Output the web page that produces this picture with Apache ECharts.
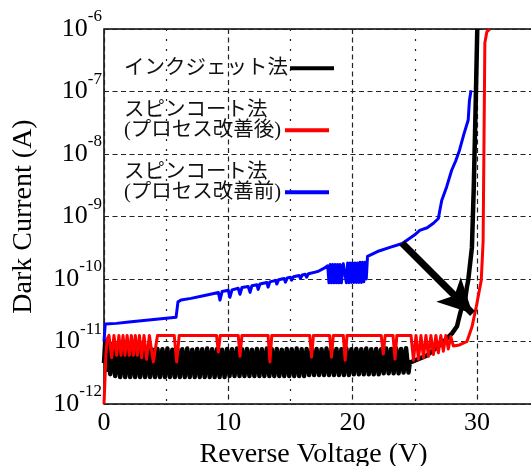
<!DOCTYPE html>
<html><head><meta charset="utf-8">
<script src="https://cdn.jsdelivr.net/npm/echarts@6/dist/echarts.min.js"></script>
<style>html,body{margin:0;padding:0;background:#fff}#c{width:531px;height:466px}</style>
</head><body><div id="c"></div>
<script>
// ---- data (Reverse voltage [V], dark current [A]) ----
const seriesNames = ['インクジェット法', 'スピンコート法\n(プロセス改善後)', 'スピンコート法\n(プロセス改善前)'];
const xTickValues = [0, 10, 20, 30];
const yTickExponents = [-12, -11, -10, -9, -8, -7, -6];

const blackCurrent = [
  [0.0,4.5e-12],[0.1,1.0e-11],[0.2,3.5e-12],
  [0.3,1.0e-11],[0.5,3.0e-12],[0.7,9.2e-12],[0.9,2.8e-12],[1.1,8.6e-12],[1.3,2.7e-12],[1.5,8.2e-12],[1.7,2.7e-12],[1.9,7.9e-12],[2.1,2.7e-12],
  [2.3,7.7e-12],[2.5,2.7e-12],[2.7,7.8e-12],[2.9,2.7e-12],[3.1,7.5e-12],[3.3,2.7e-12],[3.5,7.7e-12],[3.7,2.7e-12],[3.9,7.4e-12],[4.1,2.7e-12],
  [4.3,7.6e-12],[4.5,2.7e-12],[4.7,7.5e-12],[4.9,2.7e-12],[5.1,7.7e-12],[5.3,2.7e-12],[5.5,7.4e-12],[5.7,2.7e-12],[5.9,7.6e-12],[6.1,2.7e-12],
  [6.3,7.5e-12],[6.5,2.7e-12],[6.7,7.7e-12],[6.9,2.7e-12],[7.1,7.4e-12],[7.3,2.7e-12],[7.5,7.6e-12],[7.7,2.7e-12],[7.9,7.5e-12],[8.1,2.7e-12],
  [8.3,7.7e-12],[8.5,2.7e-12],[8.7,7.5e-12],[8.9,2.7e-12],[9.1,7.6e-12],[9.3,2.7e-12],[9.5,7.4e-12],[9.7,2.7e-12],[9.9,7.6e-12],[10.1,2.8e-12],
  [10.3,7.5e-12],[10.5,2.8e-12],[10.7,7.7e-12],[10.9,2.8e-12],[11.1,7.5e-12],[11.3,2.8e-12],[11.5,7.6e-12],[11.7,2.8e-12],[11.9,7.4e-12],[12.1,2.8e-12],
  [12.3,7.6e-12],[12.5,2.8e-12],[12.7,7.5e-12],[12.9,2.8e-12],[13.1,7.7e-12],[13.3,2.8e-12],[13.5,7.5e-12],[13.7,2.8e-12],[13.9,7.6e-12],[14.1,2.8e-12],
  [14.3,7.4e-12],[14.5,2.8e-12],[14.7,7.6e-12],[14.9,2.8e-12],[15.1,7.5e-12],[15.3,2.8e-12],[15.5,7.7e-12],[15.7,2.8e-12],[15.9,7.5e-12],[16.1,2.8e-12],
  [16.3,7.6e-12],[16.5,2.9e-12],[16.7,7.4e-12],[16.9,2.9e-12],[17.1,7.6e-12],[17.3,2.9e-12],[17.5,7.5e-12],[17.7,2.9e-12],[17.9,7.7e-12],[18.1,2.9e-12],
  [18.3,7.5e-12],[18.5,2.9e-12],[18.7,7.6e-12],[18.9,2.9e-12],[19.1,7.5e-12],[19.3,2.9e-12],[19.5,7.7e-12],[19.7,2.9e-12],[19.9,7.5e-12],[20.1,3.0e-12],
  [20.3,7.6e-12],[20.5,3.0e-12],[20.7,7.5e-12],[20.9,3.0e-12],[21.1,7.7e-12],[21.3,3.0e-12],[21.5,7.5e-12],[21.7,3.0e-12],[21.9,7.6e-12],[22.1,3.0e-12],
  [22.3,7.5e-12],[22.5,3.1e-12],[22.7,7.7e-12],[22.9,3.1e-12],[23.1,7.6e-12],[23.3,3.1e-12],[23.5,7.7e-12],[23.7,3.1e-12],[23.9,7.6e-12],[24.1,3.2e-12],
  [24.3,7.8e-12],[24.5,3.2e-12],
  [24.6,4.6e-12],[26.0,6.0e-12],[27.0,8.7e-12],[28.0,1.35e-11],[28.4,1.75e-11],[28.65,2.8e-11],[28.8,3.6e-11],[29.05,4.6e-11],[29.2,7.5e-11],
  [29.3,9.5e-11],[29.6,3.2e-10],[29.75,3.0e-9],[29.9,6.0e-8],[30.03,1.0e-6]
];

const redCurrent = [
  [0.0,1.0e-12],[0.08,2.5e-12],[0.15,6.0e-12],[0.25,1.1e-11],[0.4,1.25e-11],
  [0.62,5.5e-12],[0.8,1.25e-11],[1.02,6.0e-12],[1.2,1.25e-11],[1.37,6.0e-12],[1.53,1.25e-11],[1.69,6.0e-12],[1.86,1.25e-11],
  [2.04,6.0e-12],[2.2,1.25e-11],[2.36,6.0e-12],[2.52,1.25e-11],[2.68,6.0e-12],[2.85,1.25e-11],[3.03,5.5e-12],[3.22,1.25e-11],
  [3.43,5.2e-12],[3.65,1.25e-11],[3.97,4.7e-12],[4.3,1.25e-11],
  [5.65,1.25e-11],[5.85,4.7e-12],[6.05,1.25e-11],
  [9.05,1.25e-11],[9.2,6.8e-12],[9.35,1.25e-11],
  [10.8,1.25e-11],[10.94,5.8e-12],[11.1,1.25e-11],
  [13.2,1.25e-11],[13.35,4.7e-12],[13.5,1.25e-11],
  [16.55,1.25e-11],[16.7,5.6e-12],[16.85,1.25e-11],
  [18.15,1.25e-11],[18.3,5.6e-12],[18.45,1.25e-11],
  [19.25,1.25e-11],[19.4,5.0e-12],[19.55,1.25e-11],
  [22.3,1.25e-11],[22.47,6.3e-12],[22.62,1.25e-11],
  [23.25,1.25e-11],[23.41,5.2e-12],[23.56,1.25e-11],
  [24.7,1.25e-11],
  [24.9,5.0e-12],[25.1,1.25e-11],[25.3,5.2e-12],[25.5,1.25e-11],[25.7,5.5e-12],[25.9,1.25e-11],[26.1,5.8e-12],[26.3,1.25e-11],
  [26.5,6.2e-12],[26.7,1.25e-11],[26.9,6.6e-12],[27.1,1.25e-11],[27.3,7.0e-12],[27.5,1.25e-11],[27.7,7.6e-12],[27.9,1.2e-11],
  [28.1,8.5e-12],[28.6,8.8e-12],[29.2,1.0e-11],[29.6,1.7e-11],[29.95,3.6e-11],[30.35,9.5e-11],[30.5,4.0e-10],
  [30.64,6.0e-7],[30.8,9.0e-7],[31.05,1.0e-6]
];

const blueCurrent = [
  [0.0,1.0e-11],[0.1,1.9e-11],[1.0,1.95e-11],[2.0,2.05e-11],[3.0,2.15e-11],[4.0,2.25e-11],[5.0,2.35e-11],[5.8,2.45e-11],
  [5.95,4.3e-11],[6.2,4.6e-11],[7.0,4.9e-11],[8.0,5.4e-11],[9.2,6.1e-11],
  [9.33,4.6e-11],[9.5,6.3e-11],[10.0,6.6e-11],
  [10.13,5.1e-11],[10.3,6.7e-11],[10.8,7.1e-11],
  [10.94,5.7e-11],[11.1,7.3e-11],[11.6,7.6e-11],
  [11.75,6.1e-11],[11.9,7.8e-11],[12.3,8.1e-11],
  [12.4,6.8e-11],[12.55,8.3e-11],[13.1,8.8e-11],
  [13.2,7.4e-11],[13.35,9.0e-11],[13.8,9.5e-11],
  [13.9,8.3e-11],[14.05,9.7e-11],[14.5,1.02e-10],
  [14.6,8.9e-11],[14.75,1.04e-10],[15.0,1.07e-10],
  [15.1,9.6e-11],[15.25,1.09e-10],[15.7,1.14e-10],
  [15.8,1.02e-10],[15.95,1.16e-10],[16.2,1.19e-10],
  [16.3,1.07e-10],[16.45,1.21e-10],[17.0,1.29e-10],
  [17.1,1.2e-10],[17.25,1.33e-10],[17.6,1.45e-10],[18.0,1.62e-10],
  [18.1,8.7e-11],[18.2,1.7e-10],[18.3,8.7e-11],[18.4,1.7e-10],[18.5,8.7e-11],[18.6,1.7e-10],[18.7,8.7e-11],[18.8,1.7e-10],
  [18.9,8.7e-11],[19.0,1.7e-10],[19.1,8.7e-11],[19.25,1.75e-10],[19.4,1.78e-10],
  [19.5,8.7e-11],[19.6,1.8e-10],[19.7,8.7e-11],[19.8,1.8e-10],[19.9,8.8e-11],[20.0,1.8e-10],[20.1,8.8e-11],[20.2,1.8e-10],
  [20.3,8.8e-11],[20.4,1.8e-10],[20.5,8.8e-11],[20.6,1.85e-10],[20.7,8.8e-11],[20.8,1.85e-10],[20.9,9.0e-11],[21.0,1.85e-10],
  [21.1,1.0e-10],[21.2,2.3e-10],[21.3,2.4e-10],[22.0,2.75e-10],[23.0,3.2e-10],[24.0,3.7e-10],[25.0,5.1e-10],[25.4,6.0e-10],
  [26.0,6.6e-10],[26.5,7.8e-10],[26.9,9.3e-10],[27.0,1.2e-9],[27.17,1.8e-9],[27.57,3.0e-9],[27.97,5.5e-9],[28.3,7.8e-9],
  [28.6,1.15e-8],[28.96,2.1e-8],[29.3,3.5e-8],[29.4,7.2e-8],[29.53,1.05e-7]
];

const arrowStart = [23.97, 3.77e-10];
const arrowEnd = [29.65, 2.8e-11];

// ---- chart ----
const SERIF = '"Liberation Serif", "Times New Roman", serif';
const LEGEND_FONT = '"Liberation Serif", "Noto Sans CJK JP", sans-serif';
const chart = echarts.init(document.getElementById('c'), null, {renderer: 'canvas'});

function tok(w) {
  return {fontFamily: LEGEND_FONT, fontSize: 20.5, lineHeight: 20, color: '#111', width: w, align: 'left'};
}
const legendTops = [38, 100, 162];
const legendWidths = [161, 156, 156];
const legends = seriesNames.map(function (name, i) {
  return {
    orient: 'vertical', left: 124, top: legendTops[i], align: 'right', padding: 0,
    itemWidth: 44, itemHeight: 4, icon: 'rect', selectedMode: false,
    data: [name],
    textStyle: {fontFamily: LEGEND_FONT, fontSize: 20.5, lineHeight: 20, color: '#111', rich: {t: tok(legendWidths[i])}},
    formatter: function (n) {
      if (n.indexOf('\n') >= 0) {
        const parts = n.split('\n');
        return '{t|' + parts[0] + '}\n{t|' + parts[1] + '}\n{t| }';
      }
      return '{t| }\n{t|' + n + '}\n{t| }';
    }
  };
});

const option = {
  animation: false,
  backgroundColor: '#fff',
  grid: {left: 104, top: 29, width: 497.2, height: 375, outerBoundsMode: 'none', containLabel: false,
         show: true, borderColor: '#000', borderWidth: 1.5, backgroundColor: 'transparent'},
  legend: legends,
  xAxis: {
    type: 'value', min: 0, max: 40, interval: 10,
    axisLine: {show: false}, axisTick: {show: false},
    axisLabel: {fontFamily: SERIF, fontSize: 26, color: '#000', margin: 6, showMaxLabel: false,
      formatter: function (v) { return xTickValues.indexOf(v) >= 0 ? String(v) : ''; }},
    splitLine: {show: true, lineStyle: {color: '#222', type: [5, 3.5], width: 1.2}},
    minorTick: {show: false, splitNumber: 2},
    minorSplitLine: {show: true, lineStyle: {color: '#222', type: [2, 8], width: 1.2}},
    name: 'Reverse Voltage (V)', nameLocation: 'middle', nameGap: 33,
    nameTextStyle: {fontFamily: SERIF, fontSize: 28, color: '#000', padding: [0, 78, 0, 0]}
  },
  yAxis: {
    type: 'log', logBase: 10, min: 1e-12, max: 1e-6,
    axisLine: {show: false}, axisTick: {show: false},
    axisLabel: {
      margin: 2, color: '#000',
      formatter: function (v) {
        const e = Math.round(Math.log10(v));
        return yTickExponents.indexOf(e) >= 0 ? '{b|10}{s|' + e + '}' : '';
      },
      rich: {
        b: {fontFamily: SERIF, fontSize: 26, lineHeight: 26, color: '#000'},
        s: {fontFamily: SERIF, fontSize: 17, lineHeight: 17, color: '#000', padding: [0, 0, 24, 0]}
      }
    },
    splitLine: {show: true, lineStyle: {color: '#222', type: [5, 3.5], width: 1.2}},
    name: 'Dark Current (A)', nameLocation: 'middle', nameGap: 66,
    nameTextStyle: {fontFamily: SERIF, fontSize: 28, color: '#000'}
  },
  series: [
    {name: seriesNames[0], type: 'line', data: blackCurrent, symbol: 'none', showSymbol: false, silent: true, z: 2,
     lineStyle: {color: '#000', width: 4.5, join: 'round'}, itemStyle: {color: '#000'}},
    {name: seriesNames[1], type: 'line', data: redCurrent, symbol: 'none', showSymbol: false, silent: true, z: 3,
     lineStyle: {color: '#ff0000', width: 3, join: 'round'}, itemStyle: {color: '#ff0000'}},
    {name: seriesNames[2], type: 'line', data: blueCurrent, symbol: 'none', showSymbol: false, silent: true, z: 4,
     lineStyle: {color: '#0000ff', width: 3, join: 'round'}, itemStyle: {color: '#0000ff'},
     markLine: {
       silent: true, animation: false, symbol: ['none', 'arrow'], symbolSize: 30,
       label: {show: false}, emphasis: {disabled: true},
       lineStyle: {color: '#000', width: 7, type: 'solid'},
       itemStyle: {color: '#000'},
       data: [[{coord: arrowStart, symbol: 'none'}, {coord: arrowEnd, symbol: 'arrow', symbolSize: [26, 34]}]]
     }}
  ]
};
chart.setOption(option);
</script>
</body></html>
